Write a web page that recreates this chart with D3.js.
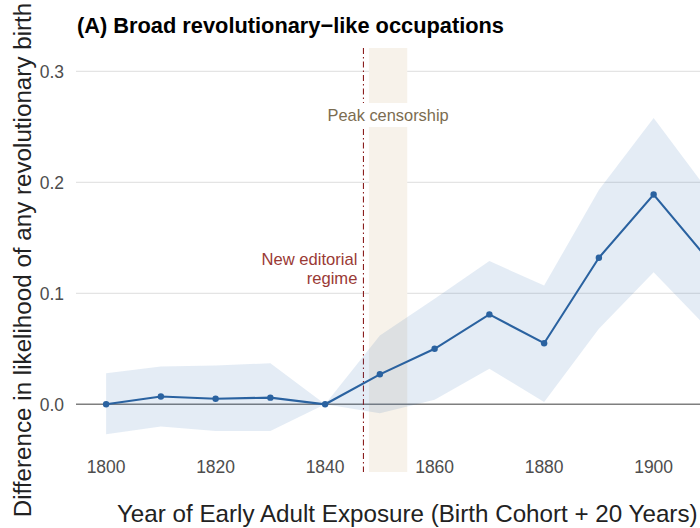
<!DOCTYPE html>
<html>
<head>
<meta charset="utf-8">
<script src="https://cdn.jsdelivr.net/npm/d3@7"></script>
<style>
  html, body { margin: 0; padding: 0; background: #fff; }
  svg { display: block; font-family: "Liberation Sans", Arial, sans-serif; }
</style>
</head>
<body>
<svg id="chart" width="700" height="528"></svg>
<script>
// ---- data ----
const years    = [1800, 1810, 1820, 1830, 1840, 1850, 1860, 1870, 1880, 1890, 1900, 1910];
const estimate = [0.000, 0.007, 0.005, 0.006, 0.000, 0.027, 0.050, 0.081, 0.055, 0.132, 0.189, 0.130];
const ciLower  = [-0.027, -0.020, -0.024, -0.024, 0.000, -0.008, 0.004, 0.032, 0.002, 0.068, 0.119, 0.068];
const ciUpper  = [0.028, 0.034, 0.035, 0.037, 0.000, 0.062, 0.095, 0.129, 0.107, 0.193, 0.258, 0.192];
const xTicks   = [1800, 1820, 1840, 1860, 1880, 1900];
const yTicks   = [0.0, 0.1, 0.2, 0.3];
const censorshipPeriod = [1848, 1855];
const editorialYear = 1847;
const title = "(A) Broad revolutionary\u2212like occupations";
const xTitle = "Year of Early Adult Exposure (Birth Cohort + 20 Years)";
const yTitle = "Difference in likelihood of any revolutionary birth";

// ---- layout ----
const svg = d3.select("#chart");
const panel = { left: 76, right: 738.5, top: 48, bottom: 472 };
const x = d3.scaleLinear().domain([1794.5, 1915.5]).range([panel.left, panel.right]);
const y = d3.scaleLinear().domain([-0.061, 0.321]).range([panel.bottom, panel.top]);

svg.append("defs").append("clipPath").attr("id", "clip")
  .append("rect").attr("x", panel.left).attr("y", panel.top)
  .attr("width", panel.right - panel.left).attr("height", panel.bottom - panel.top);

const rows = years.map((yr, i) => ({ yr, est: estimate[i], lo: ciLower[i], hi: ciUpper[i] }));

// gridlines
svg.append("g").selectAll("line").data(yTicks.filter(d => d !== 0)).join("line")
  .attr("x1", panel.left).attr("x2", panel.right)
  .attr("y1", d => y(d)).attr("y2", d => y(d))
  .attr("stroke", "#e4e4e4").attr("stroke-width", 1.3);

const plot = svg.append("g").attr("clip-path", "url(#clip)");

// censorship rect
plot.append("rect")
  .attr("x", x(censorshipPeriod[0])).attr("width", x(censorshipPeriod[1]) - x(censorshipPeriod[0]))
  .attr("y", panel.top).attr("height", panel.bottom - panel.top)
  .attr("fill", "#f7f2ea");

// zero line
plot.append("line")
  .attr("x1", panel.left).attr("x2", panel.right)
  .attr("y1", y(0)).attr("y2", y(0))
  .attr("stroke", "#7f7f7f").attr("stroke-width", 1.5);

// editorial line
plot.append("line")
  .attr("x1", x(editorialYear)).attr("x2", x(editorialYear))
  .attr("y1", panel.top).attr("y2", panel.bottom)
  .attr("stroke", "#8b1f1f").attr("stroke-width", 1.1)
  .attr("stroke-dasharray", "6,3,1.5,3");

// CI band
plot.append("path").datum(rows)
  .attr("d", d3.area().x(d => x(d.yr)).y0(d => y(d.lo)).y1(d => y(d.hi)))
  .attr("fill", "#2166ac").attr("fill-opacity", 0.12);

// line
plot.append("path").datum(rows)
  .attr("d", d3.line().x(d => x(d.yr)).y(d => y(d.est)))
  .attr("fill", "none").attr("stroke", "#2a62a0").attr("stroke-width", 2.1);

plot.append("g").selectAll("circle").data(rows).join("circle")
  .attr("cx", d => x(d.yr)).attr("cy", d => y(d.est)).attr("r", 3.2)
  .attr("fill", "#2a62a0");

// annotations
const peakG = svg.append("g");
const peakText = peakG.append("text")
  .attr("x", x((censorshipPeriod[0] + censorshipPeriod[1]) / 2)).attr("y", 121)
  .attr("text-anchor", "middle").attr("font-size", 16.4).attr("fill", "#7b6c50")
  .text("Peak censorship");
const bb = peakText.node().getBBox();
peakG.insert("rect", "text")
  .attr("x", bb.x - 5).attr("y", 103).attr("width", bb.width + 10).attr("height", 24)
  .attr("fill", "#fff");

const edX = x(editorialYear) - 6;
svg.append("text").attr("x", edX).attr("y", 265)
  .attr("text-anchor", "end").attr("font-size", 16.6).attr("fill", "#9a3a35")
  .text("New editorial");
svg.append("text").attr("x", edX).attr("y", 284)
  .attr("text-anchor", "end").attr("font-size", 16.6).attr("fill", "#9a3a35")
  .text("regime");

// axes tick labels
svg.append("g").selectAll("text").data(xTicks).join("text")
  .attr("x", d => x(d)).attr("y", 473)
  .attr("text-anchor", "middle").attr("font-size", 17.5).attr("fill", "#4d4d4d")
  .text(d => d);
svg.append("g").selectAll("text").data(yTicks).join("text")
  .attr("x", 64).attr("y", d => y(d)).attr("dy", "0.36em")
  .attr("text-anchor", "end").attr("font-size", 17.5).attr("fill", "#4d4d4d")
  .text(d => d3.format(".1f")(d));

// titles
svg.append("text").attr("x", 77).attr("y", 33)
  .attr("font-size", 21.8).attr("font-weight", "bold").attr("fill", "#000")
  .text(title);
svg.append("text").attr("x", (panel.left + panel.right) / 2).attr("y", 522)
  .attr("text-anchor", "middle").attr("font-size", 24.2).attr("fill", "#222")
  .text(xTitle);
svg.append("text")
  .attr("transform", `translate(31,${(panel.top + panel.bottom) / 2}) rotate(-90)`)
  .attr("text-anchor", "middle").attr("font-size", 24.2).attr("fill", "#222")
  .text(yTitle);
</script>
</body>
</html>
